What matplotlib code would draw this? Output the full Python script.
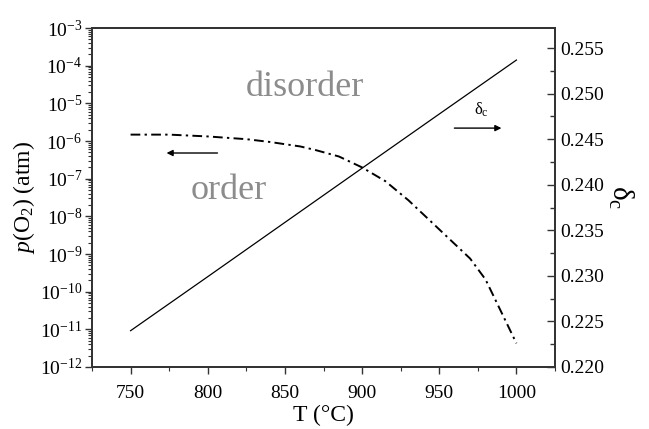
import numpy as np
import matplotlib
matplotlib.use("Agg")
import matplotlib.pyplot as plt
from matplotlib.ticker import LogLocator, MultipleLocator, FormatStrFormatter, NullFormatter

plt.rcParams['font.family'] = ['Liberation Serif', 'DejaVu Serif']
plt.rcParams['mathtext.fontset'] = 'custom'
plt.rcParams['mathtext.rm'] = 'Liberation Serif'
plt.rcParams['mathtext.it'] = 'Liberation Serif:italic'
plt.rcParams['mathtext.bf'] = 'Liberation Serif:bold'

# Data
T_po2 = [750, 800, 850, 900, 950, 1000]
po2 = [9.2e-12, 2.5e-10, 6.9e-9, 1.9e-7, 5.2e-6, 1.41e-4]

T_delta = [750, 775, 800, 825, 840, 860, 870, 885, 900, 915, 930, 945, 960, 970, 980, 990, 1000]
delta_c = [0.2455, 0.2455, 0.2453, 0.2450, 0.2447, 0.2442, 0.2438, 0.2431, 0.2419, 0.2404,
           0.2383, 0.2359, 0.2335, 0.2319, 0.2296, 0.2261, 0.2226]

x_major = [750, 800, 850, 900, 950, 1000]
right_ticks = [0.220, 0.225, 0.230, 0.235, 0.240, 0.245, 0.250, 0.255]

fig = plt.figure(figsize=(6.49, 4.29), dpi=100)
ax = fig.add_axes([92/649, 1-367/429, (555-92)/649, (367-28)/429])
ax2 = ax.twinx()

spine_col = '#333333'

ax.plot(T_po2, po2, color='k', lw=0.9)
ax.set_yscale('log')
ax.set_xlim(725, 1025)
ax.set_ylim(1e-12, 1e-3)
ax.set_xticks(x_major)
ax.xaxis.set_minor_locator(MultipleLocator(25))
ax.yaxis.set_major_locator(LogLocator(base=10, numticks=20))
ax.yaxis.set_minor_locator(LogLocator(base=10, subs=np.arange(2, 10), numticks=200))
ax.yaxis.set_minor_formatter(NullFormatter())

ax2.plot(T_delta, delta_c, color='k', lw=1.4, linestyle=(0, (5.0, 2.2, 1.2, 2.2)))
ax2.set_ylim(0.220, 0.2572)
ax2.set_yticks(right_ticks)
ax2.yaxis.set_minor_locator(MultipleLocator(0.0025))
ax2.yaxis.set_major_formatter(FormatStrFormatter('%.3f'))

for a in (ax, ax2):
    for s in a.spines.values():
        s.set_color(spine_col)
        s.set_linewidth(1.3)

ax.tick_params(axis='both', which='major', direction='out', length=5, width=1.0,
               color=spine_col, labelsize=14, pad=2)
ax.tick_params(axis='both', which='minor', direction='out', length=3, width=0.8, color=spine_col)
ax.tick_params(axis='x', which='major', pad=8)
ax2.tick_params(axis='y', which='major', direction='in', length=6, width=1.0,
                color=spine_col, labelsize=14, pad=4)
ax2.tick_params(axis='y', which='minor', direction='in', length=3.5, width=1.0, color=spine_col)

ax.set_xlabel('T (\u00b0C)', fontsize=17, labelpad=2)
ax.set_ylabel(r'$p$(O$_2$) (atm)', fontsize=17, labelpad=2)
ax2.set_ylabel(r'$\mathrm{\delta}_{\mathrm{c}}$', fontsize=21, rotation=270, labelpad=22)

ax.text(862.7, 2.6e-5, 'disorder', fontsize=26, color='#8c8c8c', ha='center', va='center')
ax.text(813.5, 5.0e-8, 'order', fontsize=26, color='#8c8c8c', ha='center', va='center')

ax.annotate('', xy=(773.3, 4.8e-7), xytext=(806.3, 4.8e-7),
            arrowprops=dict(arrowstyle='-|>', lw=1.0, color='k', mutation_scale=9,
                            shrinkA=0, shrinkB=0))
ax.annotate('', xy=(990.3, 2.2e-6), xytext=(959.8, 2.2e-6),
            arrowprops=dict(arrowstyle='-|>', lw=1.0, color='k', mutation_scale=9,
                            shrinkA=0, shrinkB=0))
ax.text(977.3, 6.6e-6, r'$\mathrm{\delta}_{\mathrm{c}}$', fontsize=12, ha='center', va='center')

fig.savefig('out.png', dpi=100)
